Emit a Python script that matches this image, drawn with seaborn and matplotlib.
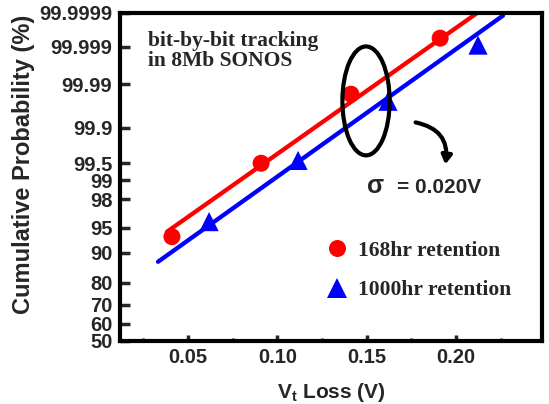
from statistics import NormalDist

import numpy as np
import pandas as pd
import matplotlib
matplotlib.use("Agg")
import matplotlib.pyplot as plt
import seaborn as sns
from matplotlib.patches import Ellipse
from matplotlib.ticker import FixedLocator, FixedFormatter, NullLocator

# Vt loss (V) and cumulative probability (%) for each retention time
vt_168 = [0.0410, 0.0909, 0.1412, 0.1911]
cum_168 = [93.47, 99.50, 99.9826, 99.99943]
vt_1000 = [0.0618, 0.1116, 0.1619, 0.2123]
cum_1000 = [95.82, 99.556, 99.9744, 99.9991]

# straight-line fits on the normal-probability scale (end points)
fit_vt_168 = [0.0383, 0.2118]
fit_cum_168 = [94.35, 99.9999]
fit_vt_1000 = [0.0332, 0.2263]
fit_cum_1000 = [87.45, 99.99988]

series = ["168hr retention", "1000hr retention"]
prob_ticks = [50, 60, 70, 80, 90, 95, 98, 99, 99.5, 99.9, 99.99, 99.999, 99.9999]
prob_labels = ["50", "60", "70", "80", "90", "95", "98", "99", "99.5",
               "99.9", "99.99", "99.999", "99.9999"]
vt_ticks = [0.05, 0.10, 0.15, 0.20]
vt_labels = ["0.05", "0.10", "0.15", "0.20"]
vt_minor = [0.025, 0.075, 0.125, 0.175, 0.225]

RED = "#FF0000"
BLUE = "#0000FF"

sns.set_style("white")
plt.rcParams["font.family"] = ["Liberation Sans", "DejaVu Sans"]
plt.rcParams["font.weight"] = "bold"
plt.rcParams["mathtext.fontset"] = "custom"
plt.rcParams["mathtext.rm"] = "Liberation Sans"
plt.rcParams["mathtext.bf"] = "Liberation Sans:bold"

_nd = NormalDist()


def _probit(p):
    """Percent -> standard normal quantile (normal probability paper)."""
    p = np.clip(np.asarray(p, dtype=float), 1e-10, 100 - 1e-10)
    return np.vectorize(lambda v: _nd.inv_cdf(v / 100.0), otypes=[float])(p)


def _cdf(z):
    z = np.asarray(z, dtype=float)
    return np.vectorize(lambda v: 100.0 * _nd.cdf(v), otypes=[float])(z)


df = pd.DataFrame({
    "Vt": vt_168 + vt_1000,
    "P": cum_168 + cum_1000,
    "series": [series[0]] * len(vt_168) + [series[1]] * len(vt_1000),
})

fig = plt.figure(figsize=(5.49, 4.04), dpi=100)
ax = fig.add_axes([120 / 549, 1 - 341 / 404, 422 / 549, 328 / 404])
ax.set_yscale("function", functions=(_probit, _cdf))

sns.lineplot(x=fit_vt_168, y=fit_cum_168, color=RED, lw=3.1, ax=ax, zorder=2)
sns.lineplot(x=fit_vt_1000, y=fit_cum_1000, color=BLUE, lw=3.1, ax=ax, zorder=2)
sns.scatterplot(data=df, x="Vt", y="P", hue="series", style="series", size="series",
                palette={series[0]: RED, series[1]: BLUE},
                markers={series[0]: "o", series[1]: "^"},
                sizes={series[0]: 150, series[1]: 190},
                linewidth=0, ax=ax, zorder=3)

ax.set_xlim(0.01194, 0.2481)
ax.set_ylim(50, 99.9999)
ax.xaxis.set_major_locator(FixedLocator(vt_ticks))
ax.xaxis.set_major_formatter(FixedFormatter(vt_labels))
ax.xaxis.set_minor_locator(FixedLocator(vt_minor))
ax.yaxis.set_major_locator(FixedLocator(prob_ticks))
ax.yaxis.set_major_formatter(FixedFormatter(prob_labels))
ax.yaxis.set_minor_locator(NullLocator())

for sp in ax.spines.values():
    sp.set_linewidth(3)
    sp.set_color("black")
ax.tick_params(axis="y", which="major", direction="in", length=7, width=2.5,
               pad=5.5, labelsize=14.5, left=True)
ax.tick_params(axis="x", which="major", direction="in", length=4, width=2.5,
               pad=5, labelsize=14.5, bottom=True)
ax.tick_params(axis="x", which="minor", direction="in", length=2, width=2, bottom=True)

ax.set_ylabel("Cumulative Probability (%)", fontsize=17, fontweight="bold")
ax.yaxis.set_label_coords(-0.201, 0.54)
ax.set_xlabel(r"V$_\mathrm{t}$ Loss (V)", fontsize=15, fontweight="bold")
ax.xaxis.set_label_coords(0.502, -0.122)

# legend in serif bold, placed inside the axes
leg = ax.get_legend()
handles = leg.legend_handles
labels = [t.get_text() for t in leg.get_texts()]
leg.remove()
ax.legend(handles, labels, loc="upper left", bbox_to_anchor=(0.488, 0.305),
          frameon=False, borderpad=0, handlelength=1.0, handletextpad=0.5,
          labelspacing=0.88, borderaxespad=0,
          prop={"family": "Liberation Serif", "weight": "bold", "size": 15.5})

# annotations
ax.text(0.066, 0.945, "bit-by-bit tracking\nin 8Mb SONOS", transform=ax.transAxes,
        ha="left", va="top", fontsize=15.5, fontweight="bold",
        family="Liberation Serif", linespacing=1.0)
ax.add_patch(Ellipse((0.583, 0.732), 0.112, 0.332, transform=ax.transAxes,
                     fill=False, ec="black", lw=3, zorder=4))
ax.annotate("", xy=(0.770, 0.530), xytext=(0.694, 0.668),
            xycoords="axes fraction", textcoords="axes fraction",
            arrowprops=dict(arrowstyle="-|>,head_length=0.5,head_width=0.3",
                            connectionstyle="arc3,rad=-0.5", lw=3,
                            ec="black", fc="black"))
ax.text(0.585, 0.451, "σ", transform=ax.transAxes, ha="left", va="baseline",
        fontsize=18, fontweight="bold")
ax.text(0.656, 0.451, "= 0.020V", transform=ax.transAxes, ha="left", va="baseline",
        fontsize=15, fontweight="bold")

fig.savefig("out.png", dpi=100)
